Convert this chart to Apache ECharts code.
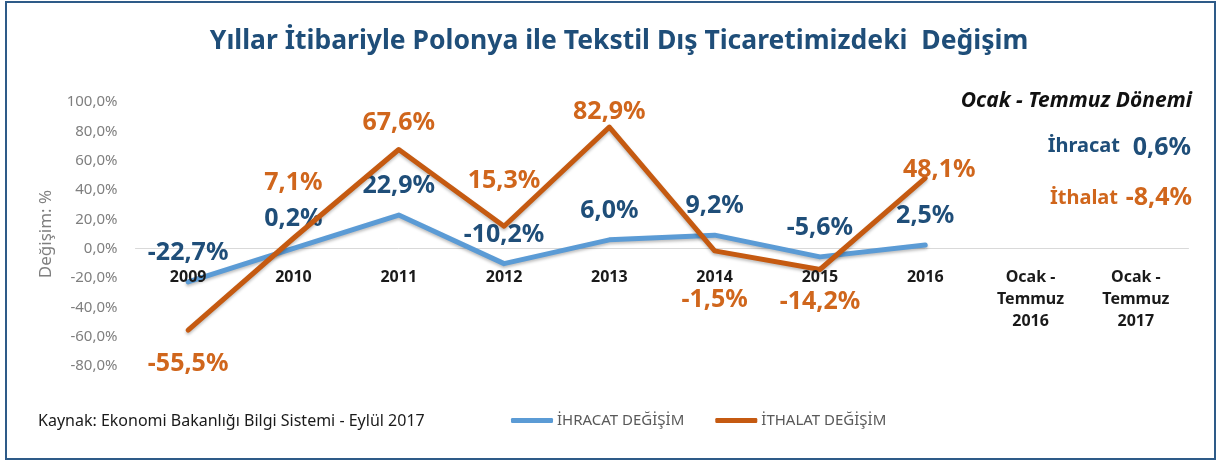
<!DOCTYPE html>
<html>
<head>
<meta charset="utf-8">
<script src="https://cdn.jsdelivr.net/npm/echarts@6/dist/echarts.min.js"></script>
<style>
  html, body { margin: 0; padding: 0; background: #fff; }
  #grafik { width: 1218px; height: 461px; }
</style>
</head>
<body>
<div id="grafik"></div>
<script>
// kategoriler (x ekseni)
var yillar = ["2009", "2010", "2011", "2012", "2013", "2014", "2015", "2016",
  "Ocak -\nTemmuz\n2016", "Ocak -\nTemmuz\n2017"];
// yıllık değişim, %
var ihracatDegisim = [-22.7, 0.2, 22.9, -10.2, 6.0, 9.2, -5.6, 2.5, null, null];
var ithalatDegisim = [-55.5, 7.1, 67.6, 15.3, 82.9, -1.5, -14.2, 48.1, null, null];
// Ocak - Temmuz dönemi
var donemIhracat = 0.6;
var donemIthalat = -8.4;
// y ekseni
var yMin = -80, yMax = 100, yAralik = 20;

// etiket kaydırmaları (sadece görünüm)
var ihracatEtiketKayma = [[0, -29], [0, -29], [0, -29], [0, -29], [0, -29], [0, -29], [0, -29], [0, -29]];
var ithalatEtiketKayma = [[0, 34], [0, -55], [0, -27], [0, -45], [0, -15], [0, 49], [0, 32], [14, -8]];

function yuzde(v) {
  return v.toFixed(1).replace(".", ",") + "%";
}

function seriVerisi(degerler, kaymalar) {
  return degerler.map(function (v, i) {
    if (v === null) return null;
    return { value: v, label: { offset: kaymalar[i] } };
  });
}

var KOYU_MAVI = "#1f4e79";
var TURUNCU = "#c55a11";
var TURUNCU_YAZI = "#d0661c";
var FONT = "Noto Sans";

var chart = echarts.init(document.getElementById("grafik"));
chart.setOption({
  animation: false,
  textStyle: { fontFamily: FONT },
  grid: { left: 135.5, right: 29.5, top: 102, bottom: 95 },
  legend: {
    left: 506,
    top: 408,
    itemWidth: 42,
    itemHeight: 5,
    itemGap: 31,
    icon: "roundRect",
    textStyle: { color: "#595959", fontSize: 15, fontFamily: FONT, padding: [0, 0, 0, -1] },
    data: ["İHRACAT DEĞİŞİM", "İTHALAT DEĞİŞİM"]
  },
  xAxis: [
    {
      // sıfır çizgisi
      type: "category",
      data: yillar,
      position: "bottom",
      axisLine: { onZero: true, lineStyle: { color: "#d9d9d9", width: 1 } },
      axisTick: { show: false },
      axisLabel: { show: false }
    },
    {
      // yıl etiketleri, çizgilerin üstünde
      type: "category",
      data: yillar,
      position: "bottom",
      z: 10,
      axisLine: { show: false, onZero: false },
      axisTick: { show: false },
      axisLabel: {
        color: "#1a1a1a",
        fontWeight: "bold",
        fontSize: 16,
        margin: -100,
        lineHeight: 22,
        interval: 0
      }
    }
  ],
  yAxis: {
    type: "value",
    min: yMin,
    max: yMax,
    interval: yAralik,
    name: "Değişim: %",
    nameLocation: "middle",
    nameGap: 81,
    nameTextStyle: { color: "#7f7f7f", fontSize: 17 },
    splitLine: { show: false },
    axisLine: { show: false },
    axisTick: { show: false },
    axisLabel: {
      color: "#7f7f7f",
      fontSize: 15,
      margin: 18,
      formatter: function (v) { return yuzde(v); }
    }
  },
  series: [
    {
      name: "İHRACAT DEĞİŞİM",
      type: "line",
      xAxisIndex: 0,
      data: seriVerisi(ihracatDegisim, ihracatEtiketKayma),
      symbol: "circle",
      symbolSize: 0.1,
      showSymbol: true,
      itemStyle: { color: "#5b9bd5" },
      lineStyle: { width: 5, color: "#5b9bd5", cap: "round", join: "round",
        shadowBlur: 3, shadowColor: "rgba(0,0,0,0.25)", shadowOffsetY: 2 },
      label: {
        show: true,
        position: "inside",
        color: KOYU_MAVI,
        fontWeight: "bold",
        fontSize: 25,
        formatter: function (p) { return yuzde(p.value); }
      },
      z: 2
    },
    {
      name: "İTHALAT DEĞİŞİM",
      type: "line",
      xAxisIndex: 0,
      data: seriVerisi(ithalatDegisim, ithalatEtiketKayma),
      symbol: "circle",
      symbolSize: 0.1,
      showSymbol: true,
      itemStyle: { color: TURUNCU },
      lineStyle: { width: 5, color: TURUNCU, cap: "round", join: "round",
        shadowBlur: 3, shadowColor: "rgba(0,0,0,0.25)", shadowOffsetY: 2 },
      label: {
        show: true,
        position: "inside",
        color: TURUNCU_YAZI,
        fontWeight: "bold",
        fontSize: 25,
        formatter: function (p) { return yuzde(p.value); }
      },
      z: 3
    }
  ],
  graphic: [
    {
      type: "rect",
      shape: { x: 6, y: 2, width: 1209, height: 457 },
      style: { fill: "none", stroke: "#2e5b88", lineWidth: 2 },
      silent: true
    },
    {
      type: "text",
      x: 619, y: 41,
      style: {
        text: "Yıllar İtibariyle Polonya ile Tekstil Dış Ticaretimizdeki  Değişim",
        fill: KOYU_MAVI, font: "bold 26.5px " + FONT,
        textAlign: "center", textVerticalAlign: "middle"
      }
    },
    {
      type: "text",
      x: 1192, y: 101,
      style: {
        text: "Ocak - Temmuz Dönemi",
        fill: "#111", font: "italic bold 21px " + FONT,
        textAlign: "right", textVerticalAlign: "middle"
      }
    },
    {
      type: "text",
      x: 1120, y: 146,
      style: {
        text: "İhracat",
        fill: KOYU_MAVI, font: "bold 20px " + FONT,
        textAlign: "right", textVerticalAlign: "middle"
      }
    },
    {
      type: "text",
      x: 1191, y: 148,
      style: {
        text: yuzde(donemIhracat),
        fill: KOYU_MAVI, font: "bold 25px " + FONT,
        textAlign: "right", textVerticalAlign: "middle"
      }
    },
    {
      type: "text",
      x: 1118, y: 198,
      style: {
        text: "İthalat",
        fill: TURUNCU_YAZI, font: "bold 20px " + FONT,
        textAlign: "right", textVerticalAlign: "middle"
      }
    },
    {
      type: "text",
      x: 1192, y: 198,
      style: {
        text: yuzde(donemIthalat),
        fill: TURUNCU_YAZI, font: "bold 25px " + FONT,
        textAlign: "right", textVerticalAlign: "middle"
      }
    },
    {
      type: "text",
      x: 38, y: 421,
      style: {
        text: "Kaynak: Ekonomi Bakanlığı Bilgi Sistemi - Eylül 2017",
        fill: "#1a1a1a", font: "16px " + FONT,
        textVerticalAlign: "middle"
      }
    }
  ]
});
</script>
</body>
</html>
